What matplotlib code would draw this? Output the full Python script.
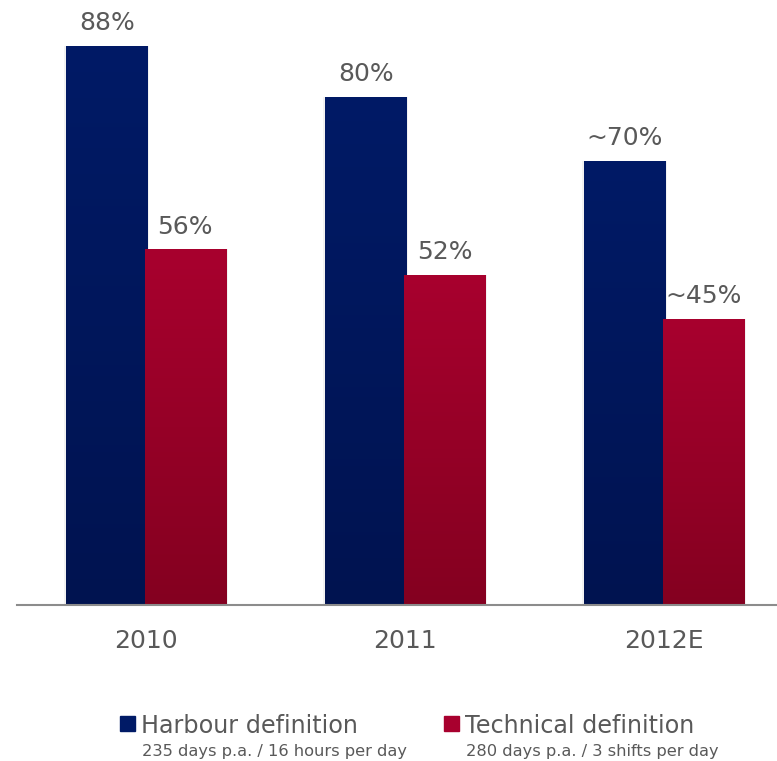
import numpy as np
import matplotlib
matplotlib.use("Agg")
import matplotlib.pyplot as plt
from matplotlib.colors import LinearSegmentedColormap
from matplotlib.patches import Rectangle

years = ["2010", "2011", "2012E"]
harbour = [88, 80, 70]
technical = [56, 52, 45]
harbour_labels = ["88%", "80%", "~70%"]
technical_labels = ["56%", "52%", "~45%"]

legend_names = ["Harbour definition", "Technical definition"]
legend_notes = ["235 days p.a. / 16 hours per day", "280 days p.a. / 3 shifts per day"]

BLUE_TOP, BLUE_BOT = "#001a66", "#001350"
RED_TOP, RED_BOT = "#a8002e", "#840020"
TEXT = "#595959"

fig = plt.figure(figsize=(7.77, 7.61), dpi=100)
ax = fig.add_axes([17 / 777, 156 / 761, 760 / 777, 605 / 761])

x = np.arange(len(years))
width = 0.313
offset = 0.152


def gradient_bars(xs, values, top, bottom):
    cmap = LinearSegmentedColormap.from_list("g", [bottom, top])
    grad = np.linspace(0, 1, 256).reshape(-1, 1)
    bars = ax.bar(xs, values, width, color=top, zorder=2)
    for b in bars:
        # faint shadow along the sides of each bar
        sh = Rectangle((b.get_x() - 0.008, 0), b.get_width() + 0.016, b.get_height(),
                       color="#000000", alpha=0.05, lw=0, zorder=1)
        ax.add_patch(sh)
        im = ax.imshow(grad, cmap=cmap, origin="lower", aspect="auto",
                       extent=[b.get_x(), b.get_x() + b.get_width(), 0, b.get_height()],
                       zorder=3, interpolation="bicubic")
        im.set_clip_path(b)
    return bars


gradient_bars(x - offset, harbour, BLUE_TOP, BLUE_BOT)
gradient_bars(x + offset, technical, RED_TOP, RED_BOT)

for xi, v, lab in zip(x - offset, harbour, harbour_labels):
    ax.text(xi, v + 1.7, lab, ha="center", va="bottom", fontsize=18, color=TEXT)
for xi, v, lab in zip(x + offset, technical, technical_labels):
    ax.text(xi, v + 1.7, lab, ha="center", va="bottom", fontsize=18, color=TEXT)

ax.set_xlim(-0.498, 2.436)
ax.set_ylim(0, 605 / 6.35)
ax.set_xticks(x)
ax.set_xticklabels(years, fontsize=18, color=TEXT)
ax.tick_params(axis="x", length=0, pad=17)
ax.set_yticks([])
for s in ["top", "right", "left"]:
    ax.spines[s].set_visible(False)
ax.spines["bottom"].set_color("#8c8c8c")
ax.spines["bottom"].set_linewidth(1.5)
ax.spines["bottom"].set_zorder(4)

# legend drawn by hand: swatch, name and a smaller note underneath
legend_x = [120, 444]
swatches = [BLUE_TOP, RED_TOP]
for lx, col, name, note in zip(legend_x, swatches, legend_names, legend_notes):
    fig.patches.append(Rectangle((lx / 777, 1 - 731 / 761), 15 / 777, 15 / 761,
                                 transform=fig.transFigure, color=col))
    fig.text((lx + 21) / 777, 1 - 733 / 761, name, fontsize=17.2, color=TEXT,
             ha="left", va="baseline")
    fig.text((lx + 22) / 777, 1 - 756 / 761, note, fontsize=11.7, color=TEXT,
             ha="left", va="baseline")

fig.savefig("out.png", dpi=100)
